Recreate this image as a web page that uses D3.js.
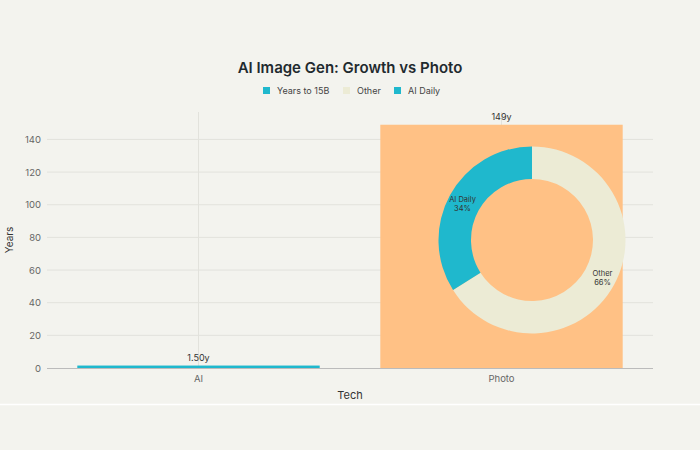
<!DOCTYPE html>
<html><head><meta charset="utf-8">
<script src="https://cdn.jsdelivr.net/npm/d3@7"></script>
<style>body{margin:0;background:#F3F3EE;font-family:Inter,"Open Sans",sans-serif}</style>
</head><body><svg id="c" width="700" height="450"></svg>
<script>
const categories=["AI","Photo"];
const years=[1.5,149];
const barLabels=["1.50y","149y"];
const pieLabels=["AI Daily","Other"];
const pieValues=[34,66];
const yTicks=[0,20,40,60,80,100,120,140];
const teal="#1FB8CD",cream="#ECEBD5",orange="#FFC185";
const svg=d3.select("#c");
svg.append("rect").attr("width",700).attr("height",450).attr("fill","#F3F3EE");
svg.append("line").attr("x1",0).attr("x2",700).attr("y1",404.5).attr("y2",404.5).attr("stroke","#fff").attr("stroke-width",1.5);
const x=d3.scaleBand().domain(categories).range([47,653]).padding(0.2).paddingOuter(0.1);
const y=d3.scaleLinear().domain([0,156.8]).range([368,112]);
const g=svg.append("g");
g.selectAll(".gy").data(yTicks.slice(1)).join("line").attr("x1",47).attr("x2",653).attr("y1",d=>y(d)).attr("y2",d=>y(d)).attr("stroke","#e2e2dc");
g.selectAll(".gx").data(categories).join("line").attr("x1",d=>x(d)+x.bandwidth()/2).attr("x2",d=>x(d)+x.bandwidth()/2).attr("y1",112).attr("y2",368).attr("stroke","#e2e2dc");
g.selectAll(".yt").data(yTicks).join("text").attr("x",41).attr("y",d=>y(d)+3.5).attr("text-anchor","end").attr("font-size",9.5).attr("fill","#666").text(d=>d);
g.selectAll(".bar").data(years).join("rect").attr("x",(d,i)=>x(categories[i])).attr("width",x.bandwidth()).attr("y",d=>y(d)).attr("height",d=>368-y(d)).attr("fill",(d,i)=>i==0?teal:orange);
g.append("line").attr("x1",47).attr("x2",653).attr("y1",368.5).attr("y2",368.5).attr("stroke","#bbb");
g.selectAll(".bl").data(years).join("text").attr("x",(d,i)=>x(categories[i])+x.bandwidth()/2).attr("y",d=>y(d)-5).attr("text-anchor","middle").attr("font-size",9).attr("fill","#333").text((d,i)=>barLabels[i]);
g.selectAll(".xt").data(categories).join("text").attr("x",d=>x(d)+x.bandwidth()/2).attr("y",382).attr("text-anchor","middle").attr("font-size",9.5).attr("fill","#666").text(d=>d);
svg.append("text").attr("x",350).attr("y",399).attr("text-anchor","middle").attr("font-size",11).attr("fill","#333").text("Tech");
svg.append("text").attr("transform","translate(13,240) rotate(-90)").attr("text-anchor","middle").attr("font-size",10).attr("fill","#333").text("Years");
svg.append("text").attr("x",350).attr("y",73).attr("text-anchor","middle").attr("font-size",15).attr("font-weight",600).attr("fill","#1f2a2e").text("AI Image Gen: Growth vs Photo");
const leg=[["Years to 15B",teal,263],["Other",cream,343],["AI Daily",teal,394]];
leg.forEach(([t,c,lx])=>{svg.append("rect").attr("x",lx).attr("y",87).attr("width",7).attr("height",7).attr("fill",c);
svg.append("text").attr("x",lx+14).attr("y",94).attr("font-size",9).attr("fill","#444").text(t);});
const cx=532,cy=240;
const pie=d3.pie().sort(null)(pieValues.slice().reverse());
const arc=d3.arc().innerRadius(61).outerRadius(93.5);
const pg=svg.append("g").attr("transform",`translate(${cx},${cy})`);
const pd=pieValues.slice().reverse(), pl=pieLabels.slice().reverse(), pc=[cream,teal];
pg.selectAll("path").data(pie).join("path").attr("d",arc).attr("fill",(d,i)=>pc[i]);
const la=d3.arc().innerRadius(77).outerRadius(77);
pie.forEach((d,i)=>{const [px,py]=la.centroid(d);const off=i==0?[3,0]:[-2,0];
const t=pg.append("text").attr("text-anchor","middle").attr("font-size",7.5).attr("fill","#333");
t.append("tspan").attr("x",px+off[0]).attr("y",py-1).text(pl[i]);
t.append("tspan").attr("x",px+off[0]).attr("y",py+8).text(pd[i]+"%");});
</script></body></html>
